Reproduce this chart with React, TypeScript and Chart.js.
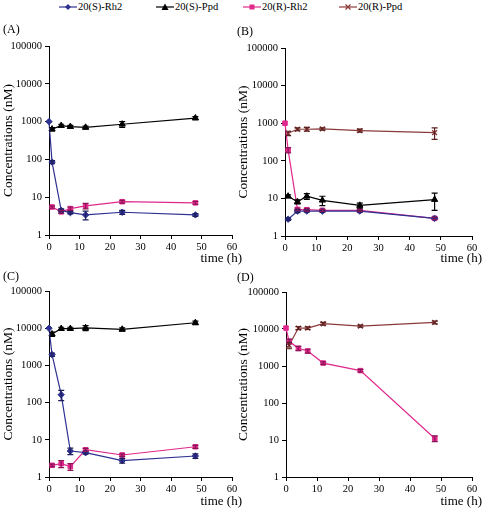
import React, { useEffect, useRef } from 'react';
import { Chart, registerables } from 'chart.js';

Chart.register(...registerables);

// ---------- data ----------
const times = [0, 1, 4, 7, 12, 24, 48];
const xTicks = [0, 10, 20, 30, 40, 50, 60];
const yTicks = [1, 10, 100, 1000, 10000, 100000];
const seriesNames = ['20(S)-Rh2', '20(S)-Ppd', '20(R)-Rh2', '20(R)-Ppd'];
const panelLabels = ['(A)', '(B)', '(C)', '(D)'];
const xTitle = 'time (h)';
const yTitle = 'Concentrations (nM)';

// Panel A
const aSRh2 = [1000, 85, 4.5, 3.9, 3.4, 4.0, 3.4];
const aSRh2Err = [0, 8, 0.4, 0.3, 0.9, 0.5, 0.3];
const aSPpd = [null, 630, 780, 735, 700, 850, 1240];
const aSPpdErr = [0, 60, 70, 60, 60, 150, 120];
const aRRh2 = [null, 5.5, 4.1, 5.0, 5.9, 7.6, 7.1];
const aRRh2Err = [0, 0.4, 0.4, 0.5, 1.0, 0.6, 0.6];

// Panel B
const bSRh2 = [null, 2.8, 4.6, 4.6, 4.6, 4.6, 2.95];
const bSRh2Err = [0, 0.2, 0.4, 0.3, 0.3, 0.3, 0.2];
const bSPpd = [null, 11.4, 8.1, 11.4, 8.9, 6.5, 9.3];
const bSPpdErr = [0, 1.0, 1.0, 2.0, 2.5, 1.0, 4.5];
const bRRh2 = [1000, 193, 5.1, 5.0, 4.8, 4.8, 2.95];
const bRRh2Err = [0, 30, 0.4, 0.4, 0.3, 0.3, 0.2];
const bRPpd = [null, 540, 690, 690, 705, 636, 560];
const bRPpdErr = [0, 70, 60, 80, 50, 60, 190];

// Panel C
const cSRh2 = [10000, 1950, 163, 5.0, 4.5, 2.75, 3.67];
const cSRh2Err = [0, 200, 50, 1.0, 0.4, 0.4, 0.5];
const cSPpd = [null, 6950, 9700, 9700, 10200, 9300, 14000];
const cSPpdErr = [0, 900, 900, 900, 1600, 900, 1500];
const cRRh2 = [null, 2.06, 2.28, 1.9, 5.4, 3.9, 6.5];
const cRRh2Err = [0, 0.15, 0.5, 0.4, 0.5, 0.3, 0.6];

// Panel D
const dRRh2 = [10600, 4640, 3000, 2540, 1200, 750, 11];
const dRRh2Err = [0, 700, 400, 300, 100, 60, 2];
const dRPpd = [null, 3630, 10600, 10600, 13900, 12000, 15100];
const dRPpdErr = [0, 700, 1000, 800, 1200, 800, 1300];

// ---------- styles ----------
const FONT = '"Liberation Serif", "Times New Roman", serif';
const styles = [
  { color: '#2e3192', errColor: '#1f1f5e', point: 'rectRot', radius: 3.2 },
  { color: '#000000', errColor: '#000000', point: 'triangle', radius: 3.6 },
  { color: '#e0288c', errColor: '#8a1455', point: 'rect', radius: 3.2 },
  { color: '#8b3a3a', errColor: '#5a2020', point: 'crossRot', radius: 3.4 },
];

type Series = { idx: number; data: (number | null)[]; err: number[] };

const panels = [
  {
    label: panelLabels[0],
    canvas: { left: 0, top: 20, width: 244, height: 250 },
    area: { left: 49, top: 46, right: 232, bottom: 235 },
    labelPos: { x: 3, y: 30 },
    yTitleX: 8,
    xTitlePos: { right: 242, y: 259 },
    series: [
      { idx: 0, data: aSRh2, err: aSRh2Err },
      { idx: 1, data: aSPpd, err: aSPpdErr },
      { idx: 2, data: aRRh2, err: aRRh2Err },
    ] as Series[],
  },
  {
    label: panelLabels[1],
    canvas: { left: 232, top: 20, width: 252, height: 250 },
    area: { left: 285, top: 48, right: 472, bottom: 236 },
    labelPos: { x: 237, y: 32 },
    yTitleX: 243,
    xTitlePos: { right: 482, y: 259 },
    series: [
      { idx: 0, data: bSRh2, err: bSRh2Err },
      { idx: 1, data: bSPpd, err: bSPpdErr },
      { idx: 2, data: bRRh2, err: bRRh2Err },
      { idx: 3, data: bRPpd, err: bRPpdErr },
    ] as Series[],
  },
  {
    label: panelLabels[2],
    canvas: { left: 0, top: 266, width: 244, height: 245 },
    area: { left: 49, top: 291, right: 232, bottom: 477 },
    labelPos: { x: 3, y: 277 },
    yTitleX: 8,
    xTitlePos: { right: 242, y: 502 },
    series: [
      { idx: 0, data: cSRh2, err: cSRh2Err },
      { idx: 1, data: cSPpd, err: cSPpdErr },
      { idx: 2, data: cRRh2, err: cRRh2Err },
    ] as Series[],
  },
  {
    label: panelLabels[3],
    canvas: { left: 232, top: 266, width: 252, height: 245 },
    area: { left: 286, top: 292, right: 472, bottom: 477 },
    labelPos: { x: 237, y: 278 },
    yTitleX: 243,
    xTitlePos: { right: 482, y: 502 },
    series: [
      { idx: 2, data: dRRh2, err: dRRh2Err },
      { idx: 3, data: dRPpd, err: dRPpdErr },
    ] as Series[],
  },
];

// ---------- plugins ----------
const errorBarPlugin = {
  id: 'errorBars',
  afterDatasetsDraw(chart: any) {
    const ctx = chart.ctx;
    const yScale = chart.scales.y;
    chart.data.datasets.forEach((ds: any, di: number) => {
      const meta = chart.getDatasetMeta(di);
      if (!ds.errors) return;
      ds.data.forEach((pt: any, i: number) => {
        const e = ds.errors[i];
        if (pt == null || pt.y == null || !e) return;
        const el = meta.data[i];
        if (!el) return;
        const x = el.x;
        const lo = Math.max(pt.y - e, 1);
        const yHi = yScale.getPixelForValue(pt.y + e);
        const yLo = yScale.getPixelForValue(lo);
        ctx.save();
        ctx.strokeStyle = ds.errColor;
        ctx.lineWidth = 1.2;
        ctx.beginPath();
        ctx.moveTo(x, yHi);
        ctx.lineTo(x, yLo);
        ctx.moveTo(x - 3, yHi);
        ctx.lineTo(x + 3, yHi);
        ctx.moveTo(x - 3, yLo);
        ctx.lineTo(x + 3, yLo);
        ctx.stroke();
        ctx.restore();
      });
    });
  },
};

const decorPlugin = {
  id: 'decor',
  afterDraw(chart: any, _args: any, opts: any) {
    const ctx = chart.ctx;
    const area = chart.chartArea;
    ctx.save();
    ctx.fillStyle = '#000';
    // panel label
    ctx.font = `12px ${FONT}`;
    ctx.textAlign = 'left';
    ctx.textBaseline = 'middle';
    ctx.fillText(opts.label, opts.labelX, opts.labelY);
    // x title
    ctx.font = `13px ${FONT}`;
    ctx.textAlign = 'right';
    ctx.fillText(opts.xTitle, opts.xTitleRight, opts.xTitleY);
    // y title
    ctx.translate(opts.yTitleX, (area.top + area.bottom) / 2);
    ctx.rotate(-Math.PI / 2);
    ctx.textAlign = 'center';
    ctx.font = `13.5px ${FONT}`;
    ctx.fillText(opts.yTitle, 0, 0);
    ctx.restore();
  },
};

function Panel({ p }: { p: (typeof panels)[number] }) {
  const ref = useRef<HTMLCanvasElement | null>(null);
  useEffect(() => {
    if (!ref.current) return;
    const c = p.canvas;
    const yW = p.area.left - c.left;
    const padTop = p.area.top - c.top;
    const padRight = c.left + c.width - p.area.right;
    const xH = c.top + c.height - p.area.bottom;
    const datasets = p.series.map((s) => {
      const st = styles[s.idx];
      return {
        label: seriesNames[s.idx],
        data: times.map((t, i) => ({ x: t, y: s.data[i] })).filter((d) => d.y != null),
        errors: times.map((_, i) => s.err[i]).filter((_, i) => s.data[i] != null),
        errColor: st.errColor,
        borderColor: st.color,
        backgroundColor: st.color,
        pointBackgroundColor: st.color,
        pointBorderColor: st.color,
        pointStyle: st.point,
        pointRadius: st.radius,
        pointBorderWidth: st.point === 'crossRot' ? 1.5 : 1,
        borderWidth: 1.2,
        tension: 0,
        clip: false as any,
        showLine: true,
      };
    });
    const tickFont = { family: FONT, size: 10.5 };
    const chart = new Chart(ref.current, {
      type: 'line',
      data: { datasets },
      plugins: [errorBarPlugin, decorPlugin],
      options: {
        animation: false,
        responsive: false,
        layout: { padding: { left: 0, top: padTop, right: padRight, bottom: 0 } },
        plugins: {
          legend: { display: false },
          tooltip: { enabled: false },
          decor: {
            label: p.label,
            labelX: p.labelPos.x - c.left,
            labelY: p.labelPos.y - c.top,
            xTitle,
            xTitleRight: p.xTitlePos.right - c.left,
            xTitleY: p.xTitlePos.y - c.top,
            yTitle,
            yTitleX: p.yTitleX - c.left,
          },
        } as any,
        scales: {
          x: {
            type: 'linear',
            min: 0,
            max: 60,
            afterBuildTicks: (s: any) => {
              s.ticks = xTicks.map((v) => ({ value: v }));
            },
            afterFit: (s: any) => {
              s.height = xH;
            },
            ticks: { color: '#000', font: tickFont, padding: 2, maxRotation: 0, autoSkip: false },
            grid: { display: true, drawOnChartArea: false, drawTicks: true, tickLength: 4, color: '#000', lineWidth: 1 },
            border: { display: true, color: '#000', width: 1 },
          },
          y: {
            type: 'logarithmic',
            min: 1,
            max: 100000,
            afterBuildTicks: (s: any) => {
              s.ticks = yTicks.map((v) => ({ value: v }));
            },
            afterFit: (s: any) => {
              s.width = yW;
            },
            ticks: {
              color: '#000',
              font: tickFont,
              padding: 3,
              autoSkip: false,
              callback: (v: any) => String(v),
            },
            grid: { display: true, drawOnChartArea: false, drawTicks: true, tickLength: 4, color: '#000', lineWidth: 1 },
            border: { display: true, color: '#000', width: 1 },
          },
        },
      } as any,
    });
    return () => chart.destroy();
  }, []);
  return (
    <canvas
      ref={ref}
      width={p.canvas.width}
      height={p.canvas.height}
      style={{ position: 'absolute', left: p.canvas.left, top: p.canvas.top, width: p.canvas.width, height: p.canvas.height }}
    />
  );
}

const legendPos = [
  { lineX: 59, textX: 78 },
  { lineX: 156, textX: 175 },
  { lineX: 243, textX: 262 },
  { lineX: 339, textX: 358 },
];

function Marker({ idx }: { idx: number }) {
  const st = styles[idx];
  const c = st.color;
  let shape: React.ReactNode = null;
  if (st.point === 'rectRot') shape = <polygon points="9,1 12,4 9,7 6,4" fill={c} />;
  else if (st.point === 'triangle') shape = <polygon points="9,0.5 12.5,7 5.5,7" fill={c} />;
  else if (st.point === 'rect') shape = <rect x={6.5} y={1.5} width={5} height={5} fill={c} />;
  else
    shape = (
      <g stroke={c} strokeWidth={1.3}>
        <line x1={6.5} y1={1.5} x2={11.5} y2={6.5} />
        <line x1={11.5} y1={1.5} x2={6.5} y2={6.5} />
      </g>
    );
  return (
    <svg width={18} height={8} style={{ position: 'absolute', left: 0, top: 0 }}>
      <line x1={0} y1={4} x2={18} y2={4} stroke={c} strokeWidth={1.2} />
      {shape}
    </svg>
  );
}

function Legend() {
  return (
    <>
      {seriesNames.map((n, i) => (
        <div key={n} style={{ position: 'absolute', left: legendPos[i].lineX, top: 3, height: 10, width: 90 }}>
          <Marker idx={i} />
          <span
            style={{
              position: 'absolute',
              left: legendPos[i].textX - legendPos[i].lineX,
              top: -3,
              font: `10.5px ${FONT}`,
              lineHeight: '14px',
              whiteSpace: 'nowrap',
              color: '#000',
            }}
          >
            {n}
          </span>
        </div>
      ))}
    </>
  );
}

export default function App() {
  return (
    <div style={{ position: 'absolute', left: 0, top: 0, width: 484, height: 511, background: '#fff', overflow: 'hidden' }}>
      <Legend />
      {panels.map((p) => (
        <Panel key={p.label} p={p} />
      ))}
    </div>
  );
}
